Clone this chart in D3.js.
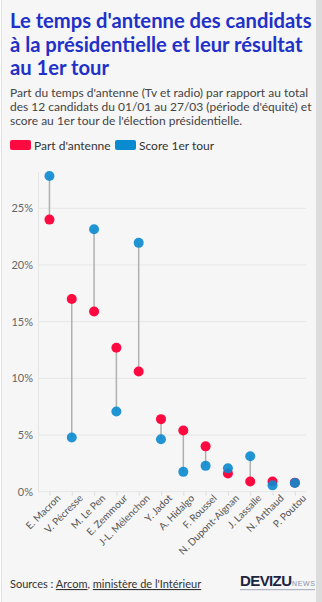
<!DOCTYPE html>
<html><head><meta charset="utf-8">
<script src="https://cdn.jsdelivr.net/npm/d3@7"></script>
<style>
html,body{margin:0;padding:0;background:#fff;overflow:hidden;}
svg{display:block;}
</style></head>
<body>
<svg id="chart" width="322" height="602"></svg>
<script>
const categories = ["E. Macron","V. Pécresse","M. Le Pen","E. Zemmour","J-L. Mélenchon","Y. Jadot","A. Hidalgo","F. Roussel","N. Dupont-Aignan","J. Lassalle","N. Arthaud","P. Poutou"];
const antenne = [24.0, 17.0, 15.9, 12.7, 10.6, 6.4, 5.4, 4.0, 1.6, 0.9, 0.9, 0.8];
const score = [27.85, 4.78, 23.15, 7.07, 21.95, 4.63, 1.75, 2.28, 2.06, 3.13, 0.56, 0.77];
const yTicks = [0, 5, 10, 15, 20, 25];
const seriesNames = ["Part d'antenne", "Score 1er tour"];
const colors = ["#ff0a40", "#0a8acf"];

const svg = d3.select("#chart");
const font = "Lato, 'Open Sans', sans-serif";

// background panel
svg.append("rect").attr("x",0).attr("y",0).attr("width",322).attr("height",602).attr("fill","#fff");
svg.append("rect").attr("x",2).attr("y",0).attr("width",314).attr("height",602).attr("fill","#f6f6f6");
svg.append("line").attr("x1",1.5).attr("x2",1.5).attr("y1",0).attr("y2",602).attr("stroke","#e2e2e2");
svg.append("rect").attr("x",316).attr("y",0).attr("width",6).attr("height",602).attr("fill","#dcdcdc");

// title
const title = ["Le temps d'antenne des candidats","à la présidentielle et leur résultat","au 1er tour"];
svg.append("g").selectAll("text").data(title).join("text")
  .attr("x",10).attr("y",(d,i)=>28+i*23.5)
  .attr("font-family",font).attr("font-weight",700).attr("font-size",20.2)
  .attr("fill","#2130c8").text(d=>d);

const sub = ["Part du temps d'antenne (Tv et radio) par rapport au total","des 12 candidats du 01/01 au 27/03 (période d'équité) et","score au 1er tour de l'élection présidentielle."];
svg.append("g").selectAll("text").data(sub).join("text")
  .attr("x",10).attr("y",(d,i)=>97+i*14)
  .attr("font-family",font).attr("font-size",12).attr("fill","#444").text(d=>d);

// legend
const leg = svg.append("g");
const legX = [10, 115];
seriesNames.forEach((n,i)=>{
  leg.append("rect").attr("x",legX[i]).attr("y",140).attr("width",21).attr("height",10).attr("rx",2)
    .attr("fill",colors[i]);
  leg.append("text").attr("x",legX[i]+24).attr("y",149.5).attr("font-family",font).attr("font-size",12)
    .attr("fill","#333").text(n);
});

// scales
const x = d3.scalePoint().domain(categories).range([38.3,306]).padding(0.5);
const y = d3.scaleLinear().domain([0,28.2]).range([491.7,172]);

// grid
const g = svg.append("g");
g.selectAll("line.grid").data(yTicks).join("line").attr("class","grid")
  .attr("x1",38).attr("x2",306).attr("y1",d=>y(d)).attr("y2",d=>y(d))
  .attr("stroke","#e6e6e6").attr("stroke-width",1);
g.append("line").attr("x1",38.5).attr("x2",38.5).attr("y1",172).attr("y2",491.7).attr("stroke","#e6e6e6");

// y axis
const yAxis = d3.axisLeft(y).tickValues(yTicks).tickFormat(d=>d+"%").tickSize(0).tickPadding(5);
const ya = svg.append("g").attr("transform","translate(38,0)").call(yAxis);
ya.select(".domain").remove();
ya.selectAll("text").attr("font-family",font).attr("font-size",11).attr("fill","#666");

// x axis
const xAxis = d3.axisBottom(x).tickSize(4).tickPadding(3);
const xa = svg.append("g").attr("transform","translate(0,491.7)").call(xAxis);
xa.select(".domain").remove();
xa.selectAll(".tick line").attr("stroke","#ddd");
xa.selectAll("text").attr("font-family",font).attr("font-size",10).attr("fill","#555")
  .attr("text-anchor","end").attr("dy","0.6em").attr("dx","0.3em")
  .attr("transform","rotate(-45)");

// connectors
const data = categories.map((c,i)=>({c, a:antenne[i], s:score[i]}));
svg.append("g").selectAll("line").data(data).join("line")
  .attr("x1",d=>x(d.c)).attr("x2",d=>x(d.c))
  .attr("y1",d=>y(d.a)).attr("y2",d=>y(d.s))
  .attr("stroke","#b0b0b0").attr("stroke-width",1.5);

// dots
svg.append("g").selectAll("circle").data(data).join("circle")
  .attr("cx",d=>x(d.c)).attr("cy",d=>y(d.a)).attr("r",5).attr("fill",colors[0]);
svg.append("g").selectAll("circle").data(data).join("circle")
  .attr("cx",d=>x(d.c)).attr("cy",d=>y(d.s)).attr("r",5).attr("fill",colors[1]).attr("fill-opacity",0.9);

// sources
const src = svg.append("text").attr("x",10).attr("y",588).attr("font-family",font).attr("font-size",11).attr("fill","#333");
src.append("tspan").text("Sources : ");
src.append("tspan").attr("text-decoration","underline").text("Arcom");
src.append("tspan").text(", ");
src.append("tspan").attr("text-decoration","underline").text("ministère de l'Intérieur");

// logo
svg.append("text").attr("x",240).attr("y",586).attr("font-family","'Liberation Sans', Arial, sans-serif")
  .attr("font-weight",900).attr("font-size",15).attr("fill","#1c2440").attr("textLength",52).text("DEVIZU");
svg.append("text").attr("x",292).attr("y",586).attr("font-family","'Liberation Sans', Arial, sans-serif")
  .attr("font-size",7).attr("fill","#8890a8").attr("textLength",23).text("NEWS");
svg.append("rect").attr("x",240).attr("y",589).attr("width",75).attr("height",1.2).attr("fill","#b0b4c4");
</script>
</body></html>
